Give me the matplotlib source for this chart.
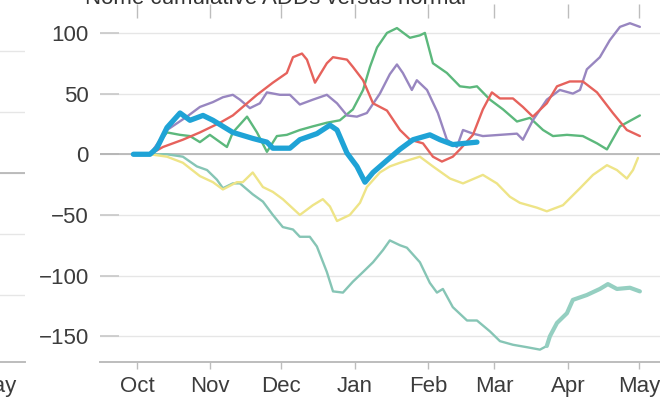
import matplotlib
matplotlib.use("Agg")
import matplotlib.pyplot as plt

plt.rcParams['font.family'] = ['Liberation Sans', 'DejaVu Sans']

# Month ticks (days since Oct 1)
month_labels = ["Oct", "Nov", "Dec", "Jan", "Feb", "Mar", "Apr", "May"]
month_days = [0, 31, 61, 92, 123, 151, 182, 212]
y_ticks = [-150, -100, -50, 0, 50, 100]

title = "Nome cumulative ADDs versus normal"

# Cumulative departure from normal by season (day since Oct 1, value)
teal_days = [-1.5, 5.5, 12.7, 19.4, 25.3, 29.6, 33.8, 36.3, 40.5, 43.5,
             48.9, 53.2, 57.4, 61.6, 65.9, 68.8, 73.0, 76.0, 80.2, 82.8,
             87.0, 91.2, 95.5, 99.7, 103.9, 106.8, 111.1, 114.0, 119.5, 123.7,
             126.7, 129.2, 133.4, 139.4, 143.6, 149.1, 153.3, 158.8, 164.7, 170.2,
             173.1, 174.4, 177.4, 181.6, 184.1, 190.0, 195.5, 198.9, 202.7, 208.2,
             212.4]
teal_vals = [0, 0, 0, -2, -10, -13, -21, -28, -24, -24,
             -33, -39, -50, -60, -62, -68, -68, -76, -97, -113,
             -114, -105, -97, -89, -79, -71, -75, -77, -89, -106,
             -114, -111, -126, -137, -137, -146, -154, -157, -159, -161,
             -158, -150, -139, -131, -120, -116, -111, -107, -111, -110,
             -113]

yellow_days = [-1.5, 5.5, 12.7, 19.4, 26.6, 32.1, 36.3, 42.2, 44.7, 48.9,
               53.2, 57.4, 61.6, 68.8, 74.3, 78.5, 81.5, 84.5, 89.9, 94.2,
               97.1, 102.6, 106.8, 111.1, 119.5, 125.0, 132.2, 137.7, 146.1, 152.0,
               157.5, 161.7, 168.9, 173.1, 179.9, 187.1, 192.6, 198.5, 202.7, 206.9,
               209.5, 211.6]
yellow_vals = [0, 0, -2, -7, -18, -23, -29, -23, -23, -15,
               -27, -31, -37, -50, -42, -37, -43, -55, -50, -40,
               -27, -15, -10, -7, -2, -10, -20, -24, -17, -24,
               -35, -40, -44, -47, -42, -28, -17, -9, -13, -20,
               -13, -3]

green_days = [-1.5, 5.5, 12.7, 18.2, 22.4, 26.6, 30.8, 35.1, 38.0, 40.5,
              46.5, 50.7, 54.9, 59.1, 63.3, 68.8, 74.3, 80.2, 85.7, 91.2,
              95.5, 98.4, 101.4, 105.6, 109.8, 115.3, 119.5, 121.6, 125.0, 130.9,
              136.4, 140.6, 143.6, 149.1, 154.6, 160.5, 166.0, 171.5, 175.7, 181.6,
              188.3, 194.3, 198.5, 204.0, 212.4]
green_vals = [0, 0, 18, 16, 15, 10, 16, 10, 6, 18,
              31, 18, 2, 15, 16, 20, 23, 26, 28, 37,
              53, 72, 88, 100, 104, 96, 98, 100, 75, 67,
              56, 55, 56, 45, 37, 27, 30, 20, 15, 16,
              15, 9, 4, 23, 32]

purple_days = [-1.5, 5.5, 12.7, 21.1, 26.6, 32.1, 36.3, 40.5, 43.5, 47.7,
               51.9, 54.9, 60.4, 64.6, 68.8, 74.3, 80.2, 84.5, 88.7, 92.9,
               97.1, 102.6, 106.8, 109.8, 112.3, 116.1, 118.2, 122.5, 127.1, 130.9,
               135.1, 137.7, 141.9, 146.1, 153.3, 160.5, 163.0, 167.2, 173.1, 178.6,
               184.1, 187.1, 190.0, 195.5, 199.7, 204.0, 208.2, 212.4]
purple_vals = [0, 0, 20, 31, 39, 43, 47, 49, 45, 38,
               42, 51, 49, 49, 41, 45, 49, 42, 32, 31,
               34, 50, 66, 74, 67, 53, 61, 53, 34, 12,
               6, 20, 17, 15, 16, 17, 12, 28, 45, 53,
               50, 53, 70, 80, 94, 105, 108, 105]

red_days = [-1.5, 5.5, 11.0, 19.4, 26.6, 35.1, 40.5, 46.5, 50.7, 57.4,
            63.3, 65.9, 69.7, 71.8, 75.2, 80.2, 82.8, 88.7, 91.2, 95.5,
            99.7, 105.6, 111.1, 115.3, 120.8, 125.0, 128.8, 133.4, 136.4, 141.9,
            146.1, 149.9, 153.3, 158.8, 163.0, 167.2, 173.1, 177.4, 182.8, 188.3,
            194.3, 201.0, 206.9, 212.4]
red_vals = [0, 0, 6, 12, 18, 26, 32, 42, 49, 59,
            67, 80, 83, 78, 59, 75, 80, 78, 72, 61,
            42, 36, 20, 12, 9, -2, -6, -2, 4, 16,
            37, 51, 46, 46, 39, 31, 42, 56, 60, 60,
            51, 34, 20, 15]

# Current season (partial)
blue_days = [-1.5, 5.5, 8.4, 12.7, 18.2, 22.4, 27.9, 32.1, 36.3, 40.5,
             49.0, 54.9, 57.4, 64.6, 68.8, 76.0, 81.5, 84.5, 88.7, 92.9,
             96.3, 99.7, 105.6, 111.0, 116.6, 123.7, 128.0, 133.4, 143.6]
blue_vals = [0, 0, 5, 22, 34, 28, 32, 28, 23, 18,
             13, 10, 5, 5, 12, 17, 24, 20, 1, -10,
             -23, -15, -5, 4, 12, 16, 12, 8, 10]

W, H = 660, 399
fig = plt.figure(figsize=(W / 100, H / 100), dpi=100)


def px_rect(x0, y0, x1, y1):
    return [x0 / W, 1 - y1 / H, (x1 - x0) / W, (y1 - y0) / H]


text_color = "#3c3c3c"
grid_color = "#e6e6e6"
tick_color = "#c8c8c8"


def style_axes(ax):
    for s in ["left", "right", "top"]:
        ax.spines[s].set_visible(False)
    ax.spines["bottom"].set_color("#bdbdbd")
    ax.spines["bottom"].set_linewidth(1.4)
    ax.set_xticks(month_days)
    ax.set_xticklabels(month_labels)
    ax.tick_params(axis="x", which="both", direction="out", length=5,
                   width=1, color="#bdbdbd", labelsize=16, labelcolor=text_color,
                   pad=5, top=True, labeltop=False)
    ax.tick_params(axis="y", direction="in", length=14, width=1.2,
                   color=tick_color, labelsize=16, labelcolor=text_color, pad=8)
    ax.grid(axis="y", color=grid_color, linewidth=1.0)
    ax.set_axisbelow(True)
    ax.axhline(0, color="#b3b3b3", linewidth=1.2, zorder=1)


# Neighbouring panel on the left (only its right edge is in view)
ax_left = fig.add_axes(px_rect(-535, 18, 25, 362))
ax_left.set_xlim(-11.8, 224.7)
ax_left.set_ylim(-155.4, 127.5)
ax_left.set_yticks([-100, -50, 0, 50, 100])
style_axes(ax_left)
ax_left.set_yticklabels([])
ax_left.tick_params(axis="x", top=False)
ax_left.set_xticks([month_days[-1]])
ax_left.set_xticklabels([month_labels[-1]])

# Main panel
ax = fig.add_axes(px_rect(100, 18, 660, 362))
ax.set_xlim(-15.6, 220.9)
ax.set_ylim(-171.2, 112.3)
ax.set_yticks(y_ticks)
style_axes(ax)
ax.set_yticklabels(["\u2212" + str(-v) if v < 0 else str(v) for v in y_ticks])
ax.tick_params(axis="x", which="both", top=True)
for t in ax.xaxis.get_major_ticks():
    t.tick2line.set_markersize(10)
    t.tick2line.set_color("#dddddd")

lw = 1.7
ax.plot(teal_days, teal_vals, color="#86c5b5", lw=lw, solid_capstyle="round", zorder=3)
ax.plot(teal_days[40:], teal_vals[40:], color="#95cfc1", lw=3.0,
        solid_capstyle="round", zorder=3)
ax.plot(yellow_days, yellow_vals, color="#eee487", lw=lw, solid_capstyle="round", zorder=3)
ax.plot(green_days, green_vals, color="#5cb87c", lw=lw, solid_capstyle="round", zorder=4)
ax.plot(purple_days, purple_vals, color="#9886c0", lw=lw, solid_capstyle="round", zorder=4)
ax.plot(red_days, red_vals, color="#e6625c", lw=lw, solid_capstyle="round", zorder=5)
ax.plot(blue_days, blue_vals, color="#1fa3d6", lw=3.8, solid_capstyle="round",
        solid_joinstyle="round", zorder=6)

fig.text(85 / W, 1 - 4 / H, title, fontsize=16, color="#333333",
         ha="left", va="baseline")

fig.savefig("out.png", dpi=100)
